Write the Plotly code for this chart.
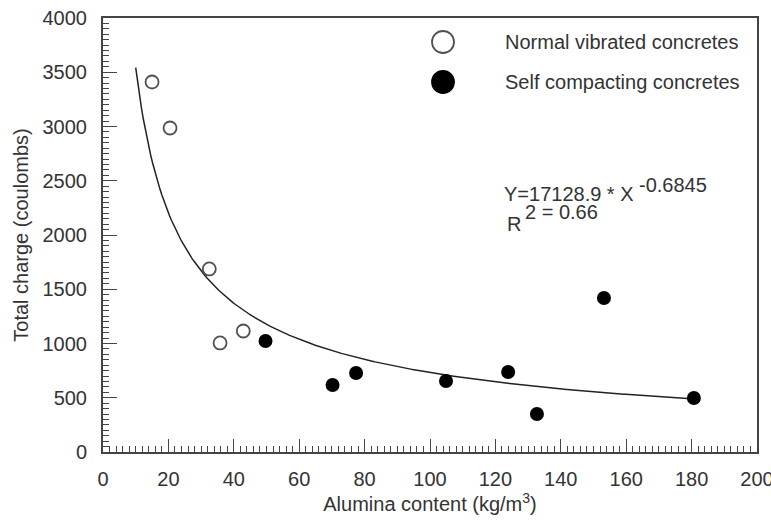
import numpy as np
import plotly.graph_objects as go

# Data
nvc_x = [15.0, 20.5, 32.5, 35.8, 42.9]
nvc_y = [3410, 2986, 1687, 1005, 1115]

scc_x = [49.7, 70.2, 77.4, 104.9, 123.9, 132.7, 153.2, 180.7]
scc_y = [1023, 617, 728, 654, 737, 350, 1419, 498]

# Fitted power law shown on the chart: Y = 17128.9 * X^-0.6845
fit_a = 17128.9
fit_b = -0.6845
fit_xmin, fit_xmax = 10.0, 181.0

x_range = [0, 200]
y_range = [0, 4000]

FONT = "Liberation Sans, Arial, sans-serif"
TXT = "#333333"
AX = "#444444"
FS = 20

fit_x = np.linspace(fit_xmin, fit_xmax, 300)
fit_y = fit_a * fit_x ** fit_b

fig = go.Figure()
fig.add_trace(go.Scatter(x=fit_x, y=fit_y, mode="lines",
                         line=dict(color="#222222", width=1.5),
                         showlegend=False, hoverinfo="skip"))
fig.add_trace(go.Scatter(x=nvc_x, y=nvc_y, mode="markers", name="Normal vibrated concretes",
                         marker=dict(symbol="circle-open", size=13, color="#505050",
                                     line=dict(width=1.8, color="#505050")),
                         showlegend=False))
fig.add_trace(go.Scatter(x=scc_x, y=scc_y, mode="markers", name="Self compacting concretes",
                         marker=dict(symbol="circle", size=14, color="#000000"),
                         showlegend=False))

W, H = 771, 522
ml, mr, mt, mb = 103, 14, 18, 70
pw, ph = W - ml - mr, H - mt - mb

def px2paper(px, py):
    return (px - ml) / pw, 1 - (py - mt) / ph

# Legend drawn as symbols + text
leg_items = [("Normal vibrated concretes", 42, "white", "#505050"),
             ("Self compacting concretes", 82, "black", "black")]
for label, py, fill, line in leg_items:
    sx, sy = px2paper(443, py)
    fig.add_shape(type="circle", xref="paper", yref="paper",
                  xsizemode="pixel", ysizemode="pixel", xanchor=sx, yanchor=sy,
                  x0=-11, x1=11, y0=-11, y1=11,
                  fillcolor=fill, line=dict(color=line, width=1.8))
    tx, ty = px2paper(503, py)
    fig.add_annotation(x=tx, y=ty, xref="paper", yref="paper", text=label,
                       showarrow=False, xanchor="left", yanchor="middle",
                       font=dict(family=FONT, size=FS, color=TXT))

def add_text(px, py, text, size):
    ax_, ay_ = px2paper(px, py)
    fig.add_annotation(x=ax_, y=ay_, xref="paper", yref="paper", text=text,
                       showarrow=False, xanchor="left", yanchor="middle",
                       font=dict(family=FONT, size=size, color=TXT))

add_text(502, 194, "Y=17128.9 * X", FS)
add_text(637, 185, "-0.6845", 20)
add_text(505, 224, "R", FS)
add_text(523, 212, "2 = 0.66", 20)

common = dict(showline=True, linecolor=AX, linewidth=2, mirror=True, showgrid=False,
              zeroline=False, ticks="inside", tickwidth=1.3, tickcolor=AX, automargin=False,
              tickfont=dict(family=FONT, size=FS, color=TXT))

fig.update_xaxes(range=x_range, tickmode="linear", tick0=0, dtick=20, ticklen=13,
                 minor=dict(dtick=2, ticks="inside", ticklen=6, tickcolor=AX, tickwidth=1),
                 ticklabelstandoff=8, ticklabeloverflow="allow",
                 title=dict(text="Alumina content (kg/m<sup>3</sup>)", standoff=8,
                            font=dict(family=FONT, size=FS, color=TXT)),
                 **common)
fig.update_yaxes(range=y_range, tickmode="linear", tick0=0, dtick=500, ticklen=14,
                 minor=dict(dtick=50, ticks="inside", ticklen=6, tickcolor=AX, tickwidth=1),
                 ticklabelstandoff=10,
                 title=dict(text="Total charge (coulombs)", standoff=9,
                            font=dict(family=FONT, size=FS, color=TXT)),
                 **common)

fig.update_layout(width=W, height=H, margin=dict(l=ml, r=mr, t=mt, b=mb),
                  plot_bgcolor="white", paper_bgcolor="white", showlegend=False)

fig.write_html("out.html")
